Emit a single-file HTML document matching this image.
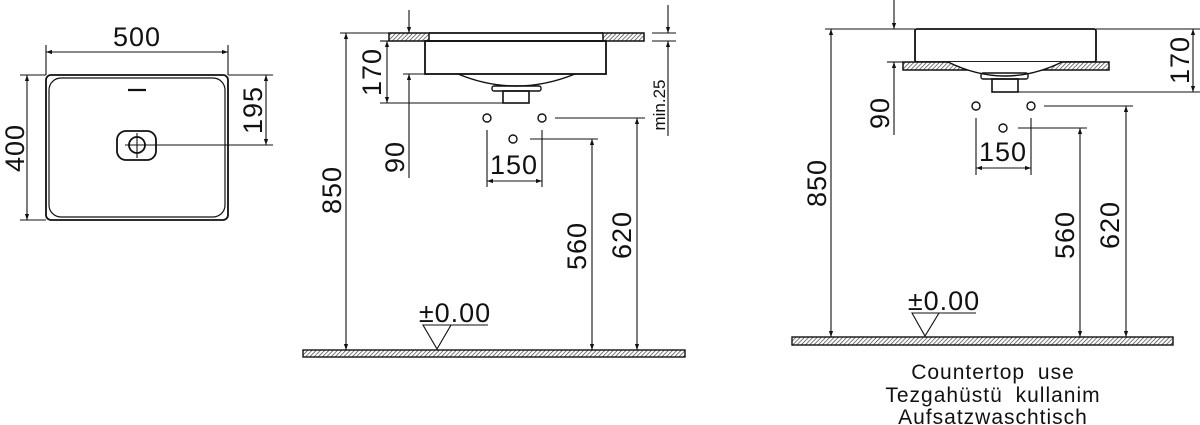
<!DOCTYPE html>
<html><head><meta charset="utf-8"><style>
html,body{margin:0;padding:0;background:#fff;}
svg{display:block;}
text{font-family:"Liberation Sans","DejaVu Sans",sans-serif;fill:#111;}
</style></head><body>
<svg width="1200" height="425" viewBox="0 0 1200 425" xmlns="http://www.w3.org/2000/svg">
<defs>
<pattern id="h" patternUnits="userSpaceOnUse" width="3" height="3" patternTransform="rotate(45)">
<rect width="3" height="3" fill="#fff"/><line x1="0" y1="0" x2="0" y2="3" stroke="#333" stroke-width="1.3"/>
</pattern>
<marker id="a" viewBox="0 0 10 10" refX="10" refY="5" markerWidth="12" markerHeight="6" orient="auto-start-reverse" markerUnits="userSpaceOnUse">
<path d="M0,1.5 L10,5 L0,8.5 z" fill="#111"/></marker>
</defs>
<g stroke="#111" fill="none" stroke-width="1.1">
<!-- plan view -->
<line x1="46" y1="45" x2="46" y2="75"/><line x1="228" y1="45" x2="228" y2="75"/>
<line x1="46" y1="52" x2="228" y2="52" marker-start="url(#a)" marker-end="url(#a)"/>
<rect x="46" y="75" width="182" height="145" rx="5" stroke-width="1.8"/>
<rect x="49" y="78" width="176" height="139" rx="12" stroke-width="1.2"/>
<line x1="128" y1="90" x2="146" y2="90" stroke-width="2.2"/>
<rect x="117" y="131" width="39" height="29" rx="9" stroke-width="1.8"/>
<circle cx="137" cy="145" r="8" stroke-width="1.8"/>
<line x1="125" y1="145" x2="160" y2="145"/><line x1="137" y1="133" x2="137" y2="158"/>
<line x1="160" y1="145" x2="273" y2="145"/>
<line x1="228" y1="75" x2="273" y2="75"/>
<line x1="266" y1="75" x2="266" y2="145" marker-start="url(#a)" marker-end="url(#a)"/>
<line x1="20" y1="75" x2="46" y2="75"/><line x1="20" y1="220" x2="46" y2="220"/>
<line x1="27" y1="75" x2="27" y2="220" marker-start="url(#a)" marker-end="url(#a)"/>

<!-- middle -->
<rect x="389" y="33" width="40" height="8" fill="url(#h)" stroke-width="1.5"/>
<rect x="603" y="33" width="41" height="8" fill="url(#h)" stroke-width="1.5"/>
<line x1="429" y1="33" x2="603" y2="33" stroke-width="1.8"/>
<line x1="429" y1="41" x2="603" y2="41" stroke-width="1.8"/>
<rect x="425" y="41" width="181" height="33" stroke-width="1.8"/>
<path d="M458,74 Q516,98 575,74" stroke-width="1.4"/>
<rect x="492" y="86" width="49" height="5" rx="2" stroke-width="1.4"/>
<rect x="503" y="91" width="26" height="12" stroke-width="1.6"/>
<circle cx="487" cy="118" r="4" stroke-width="1.4"/><circle cx="542" cy="118" r="4" stroke-width="1.4"/><circle cx="513" cy="139" r="4" stroke-width="1.4"/>
<line x1="340" y1="33" x2="389" y2="33"/>
<line x1="346" y1="33" x2="346" y2="350" marker-start="url(#a)" marker-end="url(#a)"/>
<line x1="380" y1="41" x2="389" y2="41"/>
<line x1="380" y1="103" x2="503" y2="103"/>
<line x1="387" y1="41" x2="387" y2="103" marker-start="url(#a)" marker-end="url(#a)"/>
<line x1="403" y1="74" x2="425" y2="74"/>
<line x1="409" y1="178" x2="409" y2="74" marker-end="url(#a)"/>
<line x1="409" y1="10" x2="409" y2="33" marker-end="url(#a)"/>
<line x1="555" y1="118" x2="645" y2="118"/>
<line x1="637" y1="350" x2="637" y2="118" marker-start="url(#a)" marker-end="url(#a)"/>
<line x1="530" y1="139" x2="598" y2="139"/>
<line x1="592" y1="350" x2="592" y2="139" marker-start="url(#a)" marker-end="url(#a)"/>
<line x1="487" y1="130" x2="487" y2="187"/><line x1="542" y1="130" x2="542" y2="187"/>
<line x1="487" y1="181" x2="542" y2="181" marker-start="url(#a)" marker-end="url(#a)"/>
<line x1="652" y1="33" x2="676" y2="33"/><line x1="652" y1="41" x2="676" y2="41"/>
<line x1="668" y1="5" x2="668" y2="33" marker-end="url(#a)"/>
<line x1="668" y1="136" x2="668" y2="41" marker-end="url(#a)"/>
<rect x="303" y="350" width="382" height="7" fill="url(#h)" stroke-width="1.4"/>
<line x1="423" y1="325" x2="488" y2="325"/>
<path d="M423,325 L451,325 L437,349 z"/>

<!-- right -->
<line x1="825" y1="29" x2="915" y2="29"/>
<line x1="1096" y1="29" x2="1200" y2="29"/>
<rect x="915" y="29" width="181" height="33" rx="2" stroke-width="1.8"/>
<rect x="903" y="62" width="206" height="8" fill="url(#h)" stroke-width="1.5"/>
<path d="M948,62 Q1005,90 1062,62" fill="#fff" stroke-width="1.4"/>
<rect x="981" y="73" width="47" height="6" rx="2" stroke-width="1.4"/>
<rect x="992" y="79" width="26" height="13" stroke-width="1.6"/>
<line x1="1018" y1="92" x2="1200" y2="92"/>
<line x1="1193" y1="29" x2="1193" y2="92" marker-start="url(#a)" marker-end="url(#a)"/>
<line x1="831" y1="29" x2="831" y2="337" marker-start="url(#a)" marker-end="url(#a)"/>
<line x1="894" y1="0" x2="894" y2="29" marker-end="url(#a)"/>
<line x1="887" y1="62" x2="903" y2="62"/>
<line x1="894" y1="135" x2="894" y2="62" marker-end="url(#a)"/>
<circle cx="976" cy="106" r="4" stroke-width="1.4"/><circle cx="1031" cy="106" r="4" stroke-width="1.4"/><circle cx="1003" cy="128" r="4" stroke-width="1.4"/>
<line x1="1044" y1="106" x2="1133" y2="106"/>
<line x1="1126" y1="337" x2="1126" y2="106" marker-start="url(#a)" marker-end="url(#a)"/>
<line x1="1018" y1="128" x2="1087" y2="128"/>
<line x1="1080" y1="337" x2="1080" y2="128" marker-start="url(#a)" marker-end="url(#a)"/>
<line x1="976" y1="118" x2="976" y2="175"/><line x1="1031" y1="118" x2="1031" y2="175"/>
<line x1="976" y1="168" x2="1031" y2="168" marker-start="url(#a)" marker-end="url(#a)"/>
<rect x="792" y="337" width="381" height="8" fill="url(#h)" stroke-width="1.4"/>
<line x1="912" y1="313" x2="976" y2="313"/>
<path d="M912,313 L939,313 L925,336 z"/>
</g>
<g font-size="27" letter-spacing="1">
<text x="137" y="46" text-anchor="middle">500</text>
<text transform="translate(24,148) rotate(-90)" text-anchor="middle">400</text>
<text transform="translate(262,110) rotate(-90)" text-anchor="middle">195</text>
<text transform="translate(381,72) rotate(-90)" text-anchor="middle">170</text>
<text transform="translate(404,157) rotate(-90)" text-anchor="middle">90</text>
<text transform="translate(341,190) rotate(-90)" text-anchor="middle">850</text>
<text transform="translate(586,246) rotate(-90)" text-anchor="middle">560</text>
<text transform="translate(631,235) rotate(-90)" text-anchor="middle">620</text>
<text x="514" y="174" text-anchor="middle">150</text>
<text x="455" y="322" text-anchor="middle">±0.00</text>
<text transform="translate(1189,60) rotate(-90)" text-anchor="middle">170</text>
<text transform="translate(889,113) rotate(-90)" text-anchor="middle">90</text>
<text transform="translate(826,183) rotate(-90)" text-anchor="middle">850</text>
<text transform="translate(1074,235) rotate(-90)" text-anchor="middle">560</text>
<text transform="translate(1119,225) rotate(-90)" text-anchor="middle">620</text>
<text x="1003" y="161" text-anchor="middle">150</text>
<text x="944" y="310" text-anchor="middle">±0.00</text>
</g>
<text transform="translate(665,105) rotate(-90)" text-anchor="middle" font-size="17">min.25</text>
<g font-size="21" text-anchor="middle" word-spacing="6" letter-spacing="1">
<text x="993" y="379">Countertop use</text>
<text x="993" y="402">Tezgahüstü kullanim</text>
<text x="993" y="424">Aufsatzwaschtisch</text>
</g>
</svg>
</body></html>
